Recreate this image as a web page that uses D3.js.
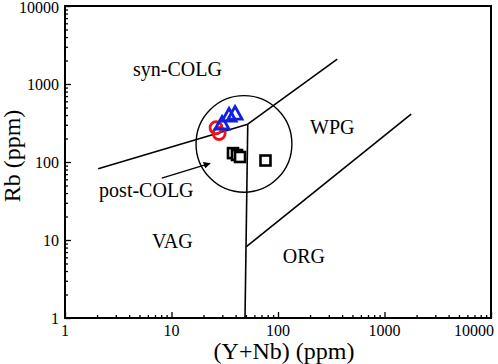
<!DOCTYPE html>
<html>
<head>
<meta charset="utf-8">
<script src="https://cdn.jsdelivr.net/npm/d3@7"></script>
<style>
  body { margin: 0; background: #fff; }
  text { font-family: "Liberation Serif", "Times New Roman", serif; fill: #000; }
</style>
</head>
<body>
<script>
// chart size and plot box
var w = 498;
var h = 364;
var padL = 65, padR = 491, padT = 6, padB = 318;

// tick labels
var tickValues = [1, 10, 100, 1000, 10000];
var tickLabels = ["1", "10", "100", "1000", "10000"];

// samples (Y+Nb, Rb)
var redX = [26.2, 28.0];
var redY = [275, 232];
var blueX = [29.8, 34.7, 39.5];
var blueY = [307, 389, 412];
var blackX = [37.8, 41.2, 44, 76.3];
var blackY = [130, 123, 116, 104.5];

// field boundaries
var vagSyn = [[2.05, 82], [52, 305]];
var synWpg = [[52, 305], [360, 2080]];
var vagWpg = [[49, 1], [52, 305]];
var wpgOrg = [[50.5, 8.2], [1780, 410]];

// post-COLG circle: extent in data units
var circX = [17, 135];
var circY = [41, 710];
var arrowFrom = [8.1, 62];
var arrowTo = [23, 96];

// field labels (left edge, baseline)
var fieldNames = ["syn-COLG", "WPG", "post-COLG", "VAG", "ORG"];
var fieldX = [4.35, 200, 2.09, 6.56, 111];
var fieldY = [1267, 228, 35.6, 7.9, 5.07];

var xScale = d3.scaleLog().domain([1, 10000]).range([padL, padR]);
var yScale = d3.scaleLog().domain([1, 10000]).range([padB, padT]);

var svg = d3.select("body").append("svg")
    .attr("width", w)
    .attr("height", h);

// minor + major ticks, pointing inward
var minors = [];
for (var e = 0; e < 4; e++) {
    for (var m = 2; m < 10; m++) minors.push(m * Math.pow(10, e));
}

var xAxis = d3.axisBottom(xScale).tickValues(tickValues).tickFormat("").tickSizeInner(-6).tickSizeOuter(0);
var xMinor = d3.axisBottom(xScale).tickValues(minors).tickFormat("").tickSizeInner(-3).tickSizeOuter(0);
var yAxis = d3.axisLeft(yScale).tickValues(tickValues).tickFormat("").tickSizeInner(-6).tickSizeOuter(0);
var yMinor = d3.axisLeft(yScale).tickValues(minors).tickFormat("").tickSizeInner(-3).tickSizeOuter(0);

[[xAxis, "translate(0," + padB + ")"], [xMinor, "translate(0," + padB + ")"],
 [yAxis, "translate(" + padL + ",0)"], [yMinor, "translate(" + padL + ",0)"]].forEach(function(a) {
    var g = svg.append("g").attr("transform", a[1]).call(a[0]);
    g.select(".domain").remove();
    g.selectAll("line").attr("stroke", "#000").attr("stroke-width", 1.3);
});

// frame
svg.append("rect")
    .attr("x", padL).attr("y", padT)
    .attr("width", padR - padL).attr("height", padB - padT)
    .attr("fill", "none").attr("stroke", "#000").attr("stroke-width", 2);

// tick labels (last x label kept inside the window)
svg.selectAll(".xl").data(tickValues).enter().append("text")
    .attr("x", function(d, i) { return i === tickValues.length - 1 ? w - 4 : xScale(d); })
    .attr("y", padB + 18)
    .attr("text-anchor", function(d, i) { return i === tickValues.length - 1 ? "end" : "middle"; })
    .attr("font-size", 16)
    .text(function(d, i) { return tickLabels[i]; });

svg.selectAll(".yl").data(tickValues).enter().append("text")
    .attr("x", padL - 6)
    .attr("y", function(d, i) { return yScale(d) + (i === tickValues.length - 1 ? 7 : 5.5); })
    .attr("text-anchor", "end")
    .attr("font-size", 16)
    .text(function(d, i) { return tickLabels[i]; });

// axis titles
svg.append("text")
    .attr("x", 284)
    .attr("y", 359)
    .attr("text-anchor", "middle")
    .attr("font-size", 24)
    .text("(Y+Nb) (ppm)");

svg.append("text")
    .attr("transform", "rotate(-90)")
    .attr("x", -156)
    .attr("y", 20)
    .attr("text-anchor", "middle")
    .attr("font-size", 24)
    .text("Rb (ppm)");

// boundaries
var line = d3.line()
    .x(function(d) { return xScale(d[0]); })
    .y(function(d) { return yScale(d[1]); });

[vagSyn, synWpg, vagWpg, wpgOrg].forEach(function(seg) {
    svg.append("path")
        .attr("d", line(seg))
        .attr("fill", "none")
        .attr("stroke", "#000")
        .attr("stroke-width", 1.6);
});

// post-COLG circle
svg.append("ellipse")
    .attr("cx", (xScale(circX[0]) + xScale(circX[1])) / 2)
    .attr("cy", (yScale(circY[0]) + yScale(circY[1])) / 2)
    .attr("rx", (xScale(circX[1]) - xScale(circX[0])) / 2)
    .attr("ry", (yScale(circY[0]) - yScale(circY[1])) / 2)
    .attr("fill", "none")
    .attr("stroke", "#000")
    .attr("stroke-width", 1.4);

// arrow
svg.append("defs").append("marker")
    .attr("id", "head")
    .attr("viewBox", "0 0 10 10")
    .attr("refX", 9).attr("refY", 5)
    .attr("markerWidth", 7).attr("markerHeight", 7)
    .attr("markerUnits", "userSpaceOnUse")
    .attr("orient", "auto")
    .append("path")
    .attr("d", "M0,0L10,5L0,10z")
    .attr("fill", "#000");

svg.append("path")
    .attr("d", line([arrowFrom, arrowTo]))
    .attr("stroke", "#000")
    .attr("stroke-width", 1.4)
    .attr("marker-end", "url(#head)");

// field labels
svg.selectAll(".field").data(fieldNames).enter().append("text")
    .attr("x", function(d, i) { return xScale(fieldX[i]); })
    .attr("y", function(d, i) { return yScale(fieldY[i]); })
    .attr("font-size", 20)
    .text(function(d) { return d; });

// samples
var red = redX.map(function(x, i) { return [x, redY[i]]; });
var blue = blueX.map(function(x, i) { return [x, blueY[i]]; });
var black = blackX.map(function(x, i) { return [x, blackY[i]]; });

svg.selectAll(".sq").data(black).enter().append("rect")
    .attr("x", function(d) { return xScale(d[0]) - 5; })
    .attr("y", function(d) { return yScale(d[1]) - 5; })
    .attr("width", 10).attr("height", 10)
    .attr("fill", "#fff")
    .attr("stroke", "#000")
    .attr("stroke-width", 2.6);

svg.selectAll(".ci").data(red).enter().append("circle")
    .attr("cx", function(d) { return xScale(d[0]); })
    .attr("cy", function(d) { return yScale(d[1]); })
    .attr("r", 6)
    .attr("fill", "none")
    .attr("stroke", "#e8141b")
    .attr("stroke-width", 2.8);

svg.selectAll(".tr").data(blue).enter().append("path")
    .attr("transform", function(d) { return "translate(" + xScale(d[0]) + "," + yScale(d[1]) + ")"; })
    .attr("d", "M0,-7.5L7,5L-7,5Z")
    .attr("fill", "none")
    .attr("stroke", "#1020e0")
    .attr("stroke-width", 2.8);
</script>
</body>
</html>
